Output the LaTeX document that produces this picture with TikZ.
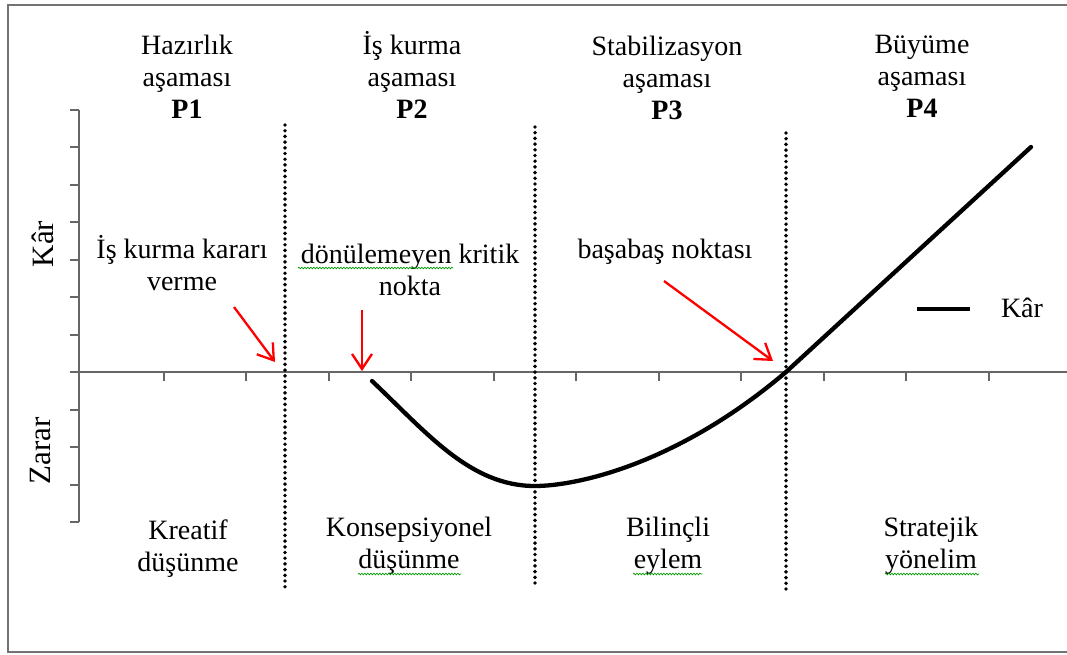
\documentclass[tikz,border=0pt]{standalone}
\usepackage{fontspec}
\setmainfont{Liberation Serif}
\usetikzlibrary{arrows.meta}
\usetikzlibrary{decorations.pathmorphing}

\begin{document}
\begin{tikzpicture}[x=1pt,y=-1pt,
  frameln/.style={line width=2.2pt,black!55},
  axisln/.style={line width=2pt,black!60},
  phaseln/.style={line width=3.9pt,dash pattern=on 0pt off 5.7pt,line cap=round},
  karln/.style={line width=4.3pt,line cap=round},
  redarrow/.style={line width=2.3pt,red,-{Straight Barb[length=15pt,width=20pt]}},
  lbl/.style={font=\fontsize{28}{32}\selectfont,align=center,inner sep=0pt},
  spell/.style={green!60!black,line width=0.7pt,decorate,
                decoration={snake,amplitude=0.8pt,segment length=3pt}}]

  \useasboundingbox (0,0) rectangle (1067,654);

  % ===== outer frame =====
  \draw[frameln] (1067,5)--(8,5)--(8,652)--(1067,652);

  % ===== axes with ticks =====
  \draw[axisln] (79,110)--(79,522);
  \foreach \k in {0,...,11}
    \draw[axisln] (70,{110+37.45*\k})--(79,{110+37.45*\k});
  \draw[axisln] (70,372)--(1067,372);
  \foreach \k in {1,...,11}
    \draw[axisln] ({81+82.5*\k},372)--({81+82.5*\k},381);

  % ===== phase borders =====
  \draw[phaseln] (285,125)--(285,588);
  \draw[phaseln] (535,127)--(535,585);
  \draw[phaseln] (786,133)--(786,590);

  % ===== profit curve =====
  \draw[karln] (372,381) .. controls (427,433) and (470,486) .. (535,486)
     .. controls (575,486) and (676,465.5) .. (786,372) --(1031,147);

  % ===== phase titles =====
  \node[lbl,anchor=base] (p1) at (187,118) {Hazırlık\\aşaması\\\textbf{P1}};
  \node[lbl,anchor=base] (p2) at (412,118) {İş kurma\\aşaması\\\textbf{P2}};
  \node[lbl,anchor=base] (p3) at (667,119) {Stabilizasyon\\aşaması\\\textbf{P3}};
  \node[lbl,anchor=base] (p4) at (922,117) {Büyüme\\aşaması\\\textbf{P4}};

  % ===== thinking modes =====
  \node[lbl,anchor=base] (kreatif) at (188,571) {Kreatif\\düşünme};
  \node[lbl,anchor=base] (konsep)  at (409,568) {Konsepsiyonel\\düşünme};
  \node[lbl,anchor=base] (bilincli) at (668,568) {Bilinçli\\eylem};
  \node[lbl,anchor=base] (strateji) at (931,568) {Stratejik\\yönelim};

  % ===== axis labels =====
  \node[lbl,font=\fontsize{31}{32}\selectfont,rotate=90] (karax) at (43,244) {Kâr};
  \node[lbl,font=\fontsize{31}{32}\selectfont,rotate=90] (zararax) at (41,451) {Zarar};

  % ===== events and red arrows =====
  \node[lbl,anchor=base] (karar) at (182,290) {İş kurma kararı\\verme};
  \node[lbl,anchor=base] (donus) at (410,295) {dönülemeyen kritik\\nokta};
  \node[lbl,anchor=base] (basabas) at (665,258) {başabaş noktası};
  \coordinate (kararS) at (234,307);  \coordinate (kararT) at (275,362);
  \coordinate (donusS) at (362,310);  \coordinate (donusT) at (362,371);
  \coordinate (basS) at (664,281);    \coordinate (basT) at (773,361);
  \draw[redarrow] (kararS)--(kararT);
  \draw[redarrow] (donusS)--(donusT);
  \draw[redarrow] (basS)--(basT);

  % ===== legend =====
  \draw[karln,line cap=butt] (917,309)--(970,309);
  \node[lbl,anchor=base] (legkar) at (1022,317) {Kâr};

  % ===== spell-check squiggles =====
  \draw[spell] (298,268)--(453,268);
  \draw[spell] (358,574)--(461,574);
  \draw[spell] (633,574)--(702,574);
  \draw[spell] (885,574)--(979,574);

\end{tikzpicture}
\end{document}
